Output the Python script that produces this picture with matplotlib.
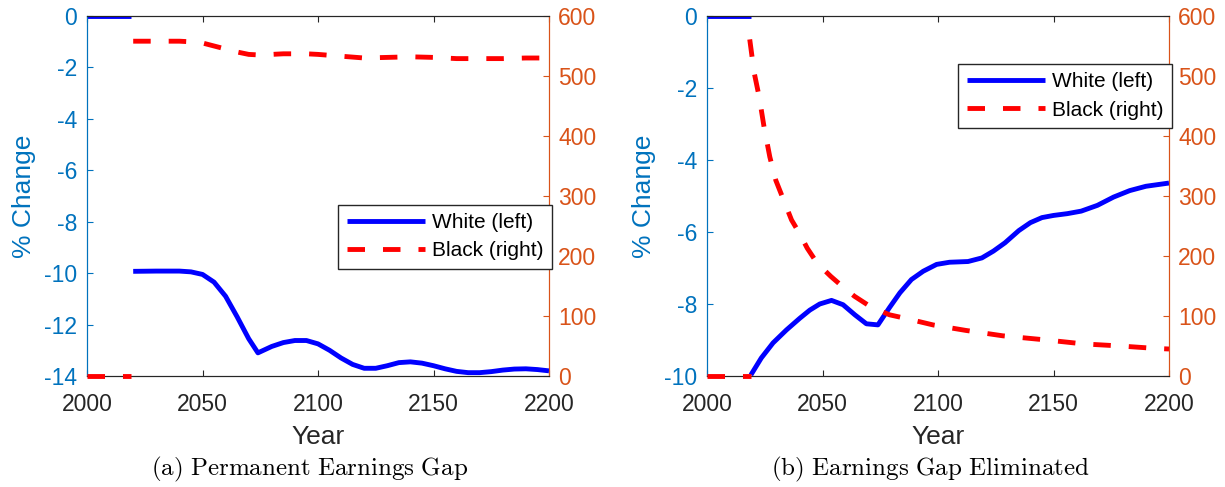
import matplotlib
matplotlib.use("Agg")
import matplotlib.pyplot as plt
from matplotlib.lines import Line2D

plt.rcParams['font.family'] = ['Liberation Sans', 'DejaVu Sans']
plt.rcParams['mathtext.fontset'] = 'cm'

# ---------------- data ----------------
years_pre = [2000, 2005, 2010, 2015, 2019]
white_pre_a = [0, 0, 0, 0, 0]
black_pre_a = [0, 0, 0, 0, 0]

years_white_a = [2020, 2030, 2040, 2045, 2050, 2055, 2060, 2065, 2070, 2074, 2080, 2085, 2090,
                 2095, 2100, 2105, 2110, 2115, 2120, 2125, 2130, 2135, 2140, 2145, 2150, 2155,
                 2160, 2165, 2170, 2175, 2180, 2185, 2190, 2195, 2200]
white_a = [-9.93, -9.92, -9.92, -9.95, -10.05, -10.35, -10.9, -11.7, -12.55, -13.1, -12.85, -12.7,
           -12.62, -12.62, -12.75, -13.0, -13.3, -13.55, -13.7, -13.7, -13.6, -13.48, -13.45,
           -13.5, -13.6, -13.72, -13.82, -13.87, -13.87, -13.83, -13.77, -13.73, -13.72, -13.75,
           -13.8]

years_black_a = [2020, 2030, 2040, 2045, 2050, 2055, 2060, 2065, 2070, 2075, 2085, 2095, 2100,
                 2110, 2120, 2130, 2140, 2150, 2160, 2170, 2180, 2190, 2200]
black_a = [558, 558, 558, 557, 555, 550, 545, 540, 536, 535, 537, 537, 536, 533, 530, 531, 532,
           531, 529, 529, 529, 530, 530]

white_pre_b = [0, 0, 0, 0, 0]
black_pre_b = [0, 0, 0, 0, 0]

years_white_b = [2019, 2023.5, 2028.6, 2034.4, 2040.1, 2044.5, 2048.8, 2053.9, 2058.9, 2064,
                 2069, 2074, 2079, 2083.5, 2088.5, 2093.6, 2099.4, 2105, 2113, 2119, 2124, 2129,
                 2135, 2140, 2145, 2150, 2156, 2162, 2169, 2176, 2183, 2190, 2200]
white_b = [-9.97, -9.5, -9.08, -8.72, -8.4, -8.17, -8.0, -7.9, -8.02, -8.3, -8.55, -8.58, -8.1,
           -7.69, -7.32, -7.09, -6.9, -6.84, -6.82, -6.72, -6.53, -6.3, -5.96, -5.74, -5.6, -5.54,
           -5.49, -5.42, -5.26, -5.03, -4.85, -4.73, -4.64]

years_black_b = [2018.5, 2020.4, 2022.6, 2024.7, 2027.2, 2029.8, 2033.2, 2036.6, 2040, 2043.4,
                 2047.7, 2053.6, 2058.7, 2063.8, 2070.6, 2079, 2086, 2098, 2112, 2128, 2147,
                 2163, 2179, 2194, 2200]
black_b = [561, 506, 465, 415, 365, 326, 293, 260, 238, 213, 188, 166, 149, 133, 116, 102, 96,
           85, 76, 67, 60, 53.5, 50, 46, 45]

xticks = [2000, 2050, 2100, 2150, 2200]
captions = ["(a) Permanent Earnings Gap", "(b) Earnings Gap Eliminated"]
legend_labels = ["White (left)", "Black (right)"]

# ---------------- style ----------------
BLUE_AX = '#0072BD'
ORANGE_AX = '#D95319'
DARK = '#262626'
LW = 3.5
DASH = (3.6, 3.7)
TICK_FS = 16.5
LABEL_FS = 19

fig = plt.figure(figsize=(12.25, 4.87), dpi=100)

H = 487.0
W = 1225.0
axes_px = [(87, 549), (707, 1169)]
top_px, bot_px = 16, 376

panels = [
    dict(wpre=white_pre_a, bpre=black_pre_a, wy=years_white_a, w=white_a, by=years_black_a,
         b=black_a, ylim=(-14, 0), yticks=list(range(-14, 1, 2)), leg_top=0.476),
    dict(wpre=white_pre_b, bpre=black_pre_b, wy=years_white_b, w=white_b, by=years_black_b,
         b=black_b, ylim=(-10, 0), yticks=list(range(-10, 1, 2)), leg_top=0.867),
]
cap_x = [310, 930.5]

for i, p in enumerate(panels):
    l, r = axes_px[i]
    ax = fig.add_axes([l / W, (H - bot_px) / H, (r - l) / W, (bot_px - top_px) / H])
    ax2 = ax.twinx()

    ax.plot(years_pre, p['wpre'], color='#0000FF', lw=LW, solid_capstyle='butt', zorder=3)
    ax.plot(p['wy'], p['w'], color='#0000FF', lw=LW, solid_capstyle='butt', zorder=3)
    ax2.plot(years_pre, p['bpre'], color='#FF0000', lw=LW, dashes=DASH, dash_capstyle='butt',
             clip_on=False, zorder=3)
    ax2.plot(p['by'], p['b'], color='#FF0000', lw=LW, dashes=DASH, dash_capstyle='butt',
             zorder=3)

    ax.set_xlim(2000, 2200)
    ax.set_xticks(xticks)
    ax.set_ylim(*p['ylim'])
    ax.set_yticks(p['yticks'])
    ax.set_yticklabels([str(v) for v in p['yticks']])
    ax2.set_ylim(0, 600)
    ax2.set_yticks(range(0, 601, 100))

    ax.tick_params(axis='x', direction='in', length=4, width=0.8, colors=DARK,
                   labelsize=TICK_FS, top=True, pad=12)
    ax.tick_params(axis='y', direction='in', length=4, width=0.8, colors=BLUE_AX,
                   labelsize=TICK_FS, pad=7)
    ax2.tick_params(axis='y', direction='in', length=4, width=0.8, colors=ORANGE_AX,
                    labelsize=TICK_FS, pad=6.5)

    for a in (ax, ax2):
        a.spines['top'].set_color(DARK)
        a.spines['bottom'].set_color(DARK)
        a.spines['left'].set_color(BLUE_AX)
        a.spines['right'].set_color(ORANGE_AX)
        for s in a.spines.values():
            s.set_linewidth(0.8)

    ax.set_xlabel('Year', fontsize=LABEL_FS, color=DARK, labelpad=7)
    ax.set_ylabel('% Change', fontsize=LABEL_FS, color=BLUE_AX, labelpad=6)

    handles = [Line2D([], [], color='#0000FF', lw=LW, solid_capstyle='butt'),
               Line2D([], [], color='#FF0000', lw=LW, dashes=DASH, dash_capstyle='butt')]
    leg = ax2.legend(handles, legend_labels, loc='upper right',
                     bbox_to_anchor=(1.006, p['leg_top']), fontsize=15, frameon=True,
                     fancybox=False, framealpha=1, edgecolor=DARK, handlelength=3.75,
                     handletextpad=0.35, borderpad=0.4, labelspacing=0.45,
                     borderaxespad=0)
    leg.get_frame().set_linewidth(1.0)
    leg.set_zorder(10)

    fig.text(cap_x[i] / W, (H - 469) / H, r'$\mathrm{' + captions[i].replace(' ', r'\ ') + '}$',
             ha='center', va='center', fontsize=18)

fig.savefig('out.png', dpi=100)
